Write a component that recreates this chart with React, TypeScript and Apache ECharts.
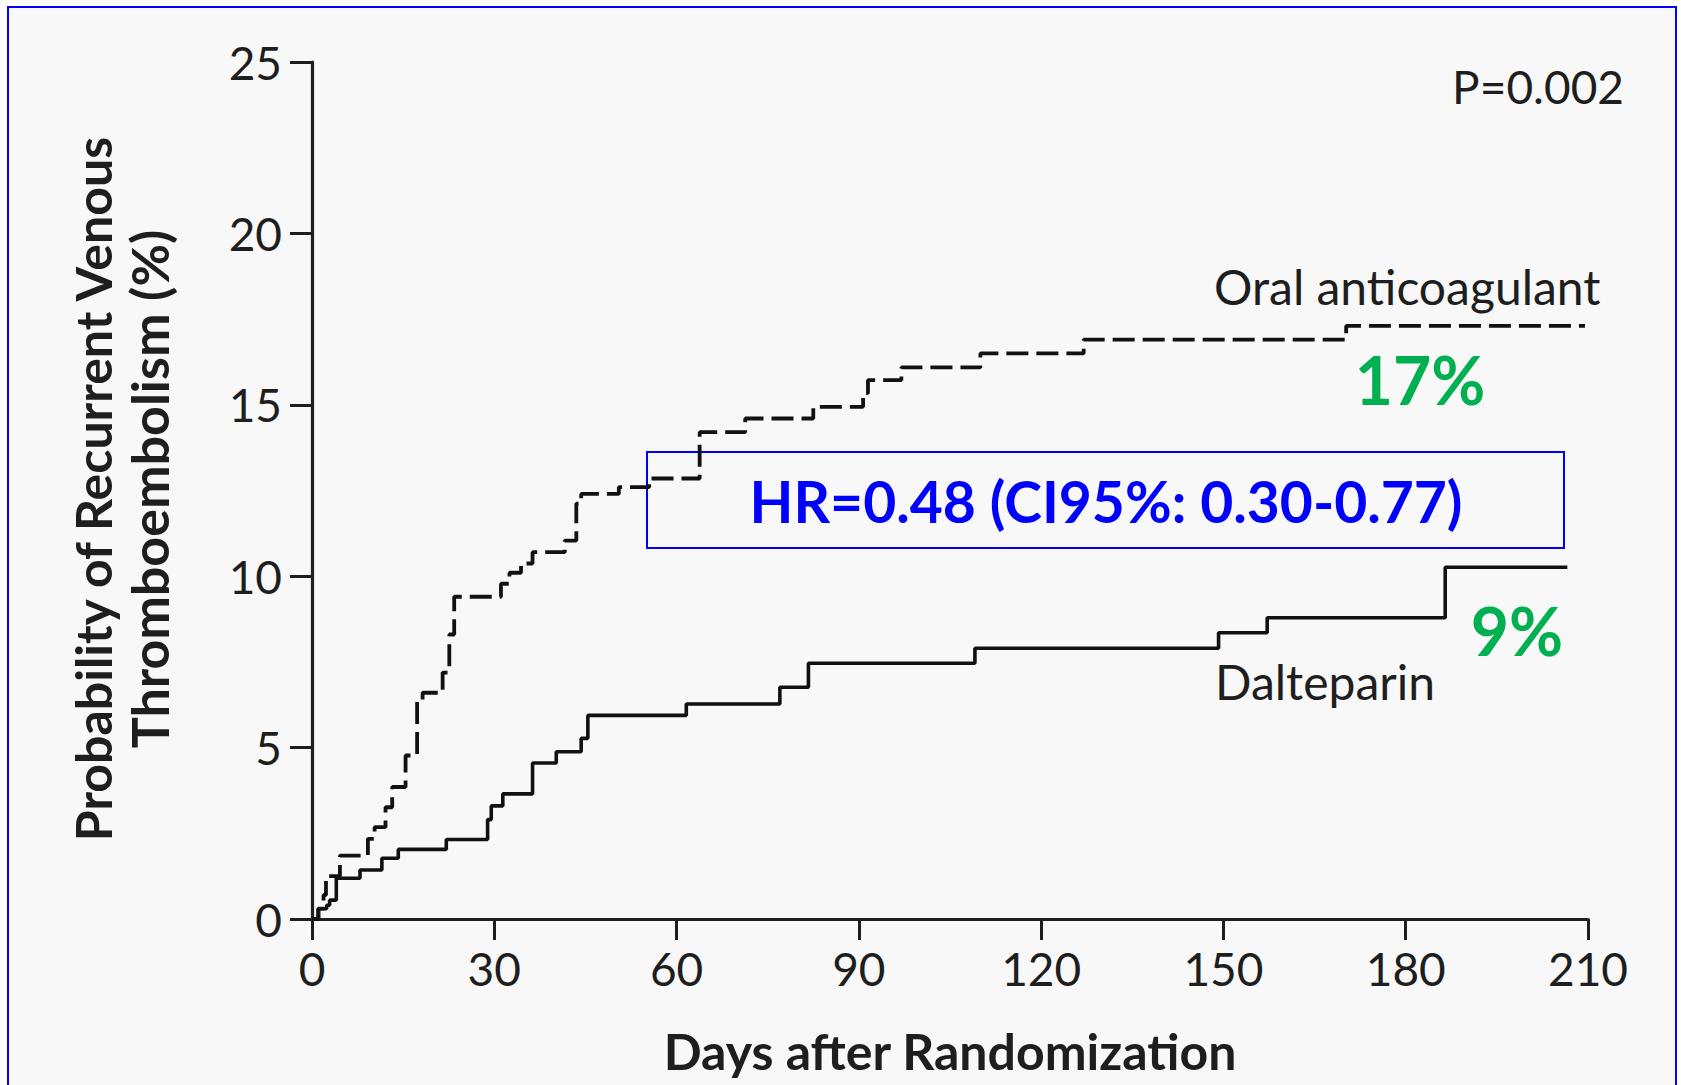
import React, { useEffect, useRef } from "react";
import * as echarts from "echarts";

// Oral anticoagulant (dashed) Kaplan-Meier steps: [day, cumulative %]
const OAC_DAYS = [0, 1.0, 1.9, 2.3, 4.6, 9.2, 10.3, 12.1, 13.2, 15.4, 17.3, 18.2, 21.5, 22.6, 23.4, 31.1, 32.5, 34.4, 36.3, 41.6, 43.5, 44.3, 50.5, 55.5, 63.8, 71.3, 82.5, 90.7, 91.5, 97, 110, 127, 170.2, 209.5];
const OAC_VALUES = [0, 0.3, 0.7, 1.25, 1.85, 2.34, 2.68, 3.26, 3.85, 4.77, 6.35, 6.6, 7.19, 8.3, 9.4, 9.78, 10.1, 10.37, 10.7, 11.04, 12.12, 12.4, 12.6, 12.85, 14.2, 14.6, 14.94, 15.34, 15.72, 16.09, 16.5, 16.9, 17.3, 17.3];

// Dalteparin (solid)
const DAL_DAYS = [0, 1.1, 2.4, 2.9, 4.0, 7.9, 11.5, 14.2, 22.1, 28.9, 29.5, 31.4, 36.3, 40.2, 44.3, 45.4, 61.6, 77, 81.7, 109.1, 149.2, 157.2, 186.5, 206.6];
const DAL_VALUES = [0, 0.3, 0.4, 0.55, 1.19, 1.43, 1.77, 2.03, 2.32, 2.9, 3.3, 3.65, 4.55, 4.88, 5.27, 5.94, 6.27, 6.76, 7.46, 7.9, 8.35, 8.79, 10.26, 10.26];

const X_TICKS = { min: 0, max: 210, interval: 30 };
const Y_TICKS = { min: 0, max: 25, interval: 5 };

const TEXTS = {
  yTitle1: "Probability of Recurrent Venous",
  yTitle2: "Thromboembolism (%)",
  xTitle: "Days after Randomization",
  p: "P=0.002",
  oac: "Oral anticoagulant",
  dal: "Dalteparin",
  oacPct: "17%",
  dalPct: "9%",
  hr: "HR=0.48 (CI95%: 0.30-0.77)",
};

const FONT = "Lato, 'Open Sans', sans-serif";
const INK = "#1e1e1e";

export default function App() {
  const ref = useRef<HTMLDivElement>(null);
  useEffect(() => {
    if (!ref.current) return;
    const chart = echarts.init(ref.current, null, { renderer: "svg" });
    const oac = OAC_DAYS.map((d, i) => [d, OAC_VALUES[i]]);
    const dal = DAL_DAYS.map((d, i) => [d, DAL_VALUES[i]]);
    chart.setOption({
      animation: false,
      backgroundColor: "#ffffff",
      grid: { left: 312, top: 62, right: 93, bottom: 166, containLabel: false },
      xAxis: {
        type: "value",
        min: X_TICKS.min,
        max: X_TICKS.max,
        interval: X_TICKS.interval,
        splitLine: { show: false },
        axisLine: { show: true, lineStyle: { color: INK, width: 3.2 } },
        axisTick: { show: true, length: 21, lineStyle: { color: INK, width: 3 } },
        axisLabel: { color: INK, fontFamily: FONT, fontSize: 46, margin: 26 },
      },
      yAxis: {
        type: "value",
        min: Y_TICKS.min,
        max: Y_TICKS.max,
        interval: Y_TICKS.interval,
        splitLine: { show: false },
        axisLine: { show: true, lineStyle: { color: INK, width: 3.2 } },
        axisTick: { show: true, length: 22, lineStyle: { color: INK, width: 3 } },
        axisLabel: { color: INK, fontFamily: FONT, fontSize: 46, margin: 30 },
      },
      series: [
        {
          name: TEXTS.oac,
          type: "line",
          step: "end",
          data: oac,
          showSymbol: false,
          lineStyle: { color: "#111", width: 3.8, type: [22, 8] },
          z: 3,
        },
        {
          name: TEXTS.dal,
          type: "line",
          step: "end",
          data: dal,
          showSymbol: false,
          lineStyle: { color: "#111", width: 3.6 },
          z: 3,
        },
      ],
      graphic: [
        {
          type: "rect",
          z: -100,
          silent: true,
          shape: { x: 8, y: 7, width: 1668, height: 1110 },
          style: { fill: "#f8f8f8", stroke: "#0000ff", lineWidth: 2 },
        },
        {
          type: "text",
          x: 93,
          y: 489,
          rotation: Math.PI / 2,
          style: { text: TEXTS.yTitle1, font: `bold 50px ${FONT}`, fill: INK, align: "center", verticalAlign: "middle" },
        },
        {
          type: "text",
          x: 149,
          y: 489,
          rotation: Math.PI / 2,
          style: { text: TEXTS.yTitle2, font: `bold 52px ${FONT}`, fill: INK, align: "center", verticalAlign: "middle" },
        },
        {
          type: "text",
          x: 950,
          y: 1051,
          style: { text: TEXTS.xTitle, font: `bold 50px ${FONT}`, fill: INK, align: "center", verticalAlign: "middle" },
        },
        {
          type: "text",
          x: 1624,
          y: 86,
          style: { text: TEXTS.p, font: `46px ${FONT}`, fill: INK, align: "right", verticalAlign: "middle" },
        },
        {
          type: "text",
          x: 1214,
          y: 286,
          style: { text: TEXTS.oac, font: `48px ${FONT}`, fill: INK, align: "left", verticalAlign: "middle" },
        },
        {
          type: "text",
          x: 1215,
          y: 681,
          style: { text: TEXTS.dal, font: `48px ${FONT}`, fill: INK, align: "left", verticalAlign: "middle" },
        },
        {
          type: "text",
          x: 1420,
          y: 379,
          style: { text: TEXTS.oacPct, font: `bold 66px ${FONT}`, fill: "#00b050", align: "center", verticalAlign: "middle" },
        },
        {
          type: "text",
          x: 1517,
          y: 630,
          style: { text: TEXTS.dalPct, font: `bold 66px ${FONT}`, fill: "#00b050", align: "center", verticalAlign: "middle" },
        },
        {
          type: "rect",
          shape: { x: 647, y: 452, width: 917, height: 96 },
          style: { fill: "none", stroke: "#0000ff", lineWidth: 2 },
        },
        {
          type: "text",
          x: 1106,
          y: 501,
          style: { text: TEXTS.hr, font: `bold 57px ${FONT}`, fill: "#0000ff", align: "center", verticalAlign: "middle" },
        },
      ],
    });
    return () => chart.dispose();
  }, []);
  return (
    <div
      ref={ref}
      style={{ position: "absolute", left: 0, top: 0, width: 1681, height: 1085 }}
    />
  );
}
